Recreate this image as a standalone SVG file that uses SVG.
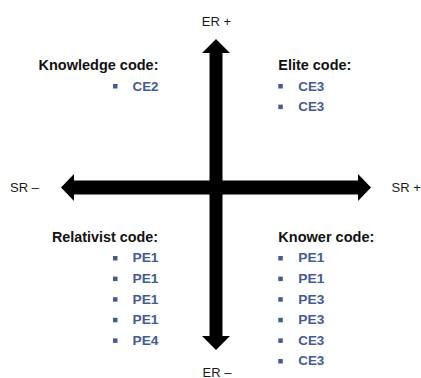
<svg xmlns="http://www.w3.org/2000/svg" width="421" height="378" viewBox="0 0 421 378">
<style>
text{font-family:"Liberation Sans",Arial,sans-serif}
.ax{font-size:13px;fill:#1a1a1a}
.hd{font-size:15px;font-weight:bold;fill:#111}
.it{font-size:13.5px;font-weight:bold;fill:#3f5b9b}
.bl{fill:#3f5b9b}
.arr{fill:#000}
</style>
<rect width="421" height="378" fill="#fff"/>
<g id="connectors">
<polygon class="arr" points="216,39 230,53 222.5,53 222.5,336 230,336 216,350 202,336 209.5,336 209.5,53 202,53"/>
<polygon class="arr" points="61,187.5 74,174 74,180.5 358,180.5 358,174 371,187.5 358,201 358,194.5 74,194.5 74,201"/>
</g>
<g id="er-plus"><text class="ax" x="216.5" y="26" text-anchor="middle">ER +</text></g>
<g id="er-minus"><text class="ax" x="217" y="376.5" text-anchor="middle">ER –</text></g>
<g id="sr-minus"><text class="ax" x="10" y="192">SR –</text></g>
<g id="sr-plus"><text class="ax" x="391.5" y="192">SR +</text></g>
<g id="knowledge">
<text class="hd" x="38.5" y="70" textLength="120" lengthAdjust="spacingAndGlyphs">Knowledge code:</text>
<rect class="bl" x="113" y="84" width="4.5" height="4.5"/>
<text class="it" x="132.5" y="90.5" textLength="26" lengthAdjust="spacingAndGlyphs">CE2</text>
</g>
<g id="elite">
<text class="hd" x="278.3" y="70" textLength="73" lengthAdjust="spacingAndGlyphs">Elite code:</text>
<rect class="bl" x="278.3" y="84" width="4.5" height="4.5"/>
<text class="it" x="298.3" y="90.5" textLength="26" lengthAdjust="spacingAndGlyphs">CE3</text>
<rect class="bl" x="278.3" y="104.6" width="4.5" height="4.5"/>
<text class="it" x="298.3" y="111.1" textLength="26" lengthAdjust="spacingAndGlyphs">CE3</text>
</g>
<g id="relativist">
<text class="hd" x="52" y="241.7" textLength="106" lengthAdjust="spacingAndGlyphs">Relativist code:</text>
<rect class="bl" x="113" y="256" width="4.5" height="4.5"/>
<text class="it" x="132.5" y="262.3" textLength="26" lengthAdjust="spacingAndGlyphs">PE1</text>
<rect class="bl" x="113" y="276.6" width="4.5" height="4.5"/>
<text class="it" x="132.5" y="282.9" textLength="26" lengthAdjust="spacingAndGlyphs">PE1</text>
<rect class="bl" x="113" y="297.2" width="4.5" height="4.5"/>
<text class="it" x="132.5" y="303.5" textLength="26" lengthAdjust="spacingAndGlyphs">PE1</text>
<rect class="bl" x="113" y="317.8" width="4.5" height="4.5"/>
<text class="it" x="132.5" y="324.1" textLength="26" lengthAdjust="spacingAndGlyphs">PE1</text>
<rect class="bl" x="113" y="338.4" width="4.5" height="4.5"/>
<text class="it" x="132.5" y="344.7" textLength="26" lengthAdjust="spacingAndGlyphs">PE4</text>
</g>
<g id="knower">
<text class="hd" x="278.3" y="241.7" textLength="96" lengthAdjust="spacingAndGlyphs">Knower code:</text>
<rect class="bl" x="278.3" y="256" width="4.5" height="4.5"/>
<text class="it" x="298.3" y="262.3" textLength="26" lengthAdjust="spacingAndGlyphs">PE1</text>
<rect class="bl" x="278.3" y="276.6" width="4.5" height="4.5"/>
<text class="it" x="298.3" y="282.9" textLength="26" lengthAdjust="spacingAndGlyphs">PE1</text>
<rect class="bl" x="278.3" y="297.2" width="4.5" height="4.5"/>
<text class="it" x="298.3" y="303.5" textLength="26" lengthAdjust="spacingAndGlyphs">PE3</text>
<rect class="bl" x="278.3" y="317.8" width="4.5" height="4.5"/>
<text class="it" x="298.3" y="324.1" textLength="26" lengthAdjust="spacingAndGlyphs">PE3</text>
<rect class="bl" x="278.3" y="338.4" width="4.5" height="4.5"/>
<text class="it" x="298.3" y="344.7" textLength="26" lengthAdjust="spacingAndGlyphs">CE3</text>
<rect class="bl" x="278.3" y="359" width="4.5" height="4.5"/>
<text class="it" x="298.3" y="365.3" textLength="26" lengthAdjust="spacingAndGlyphs">CE3</text>
</g>
</svg>
